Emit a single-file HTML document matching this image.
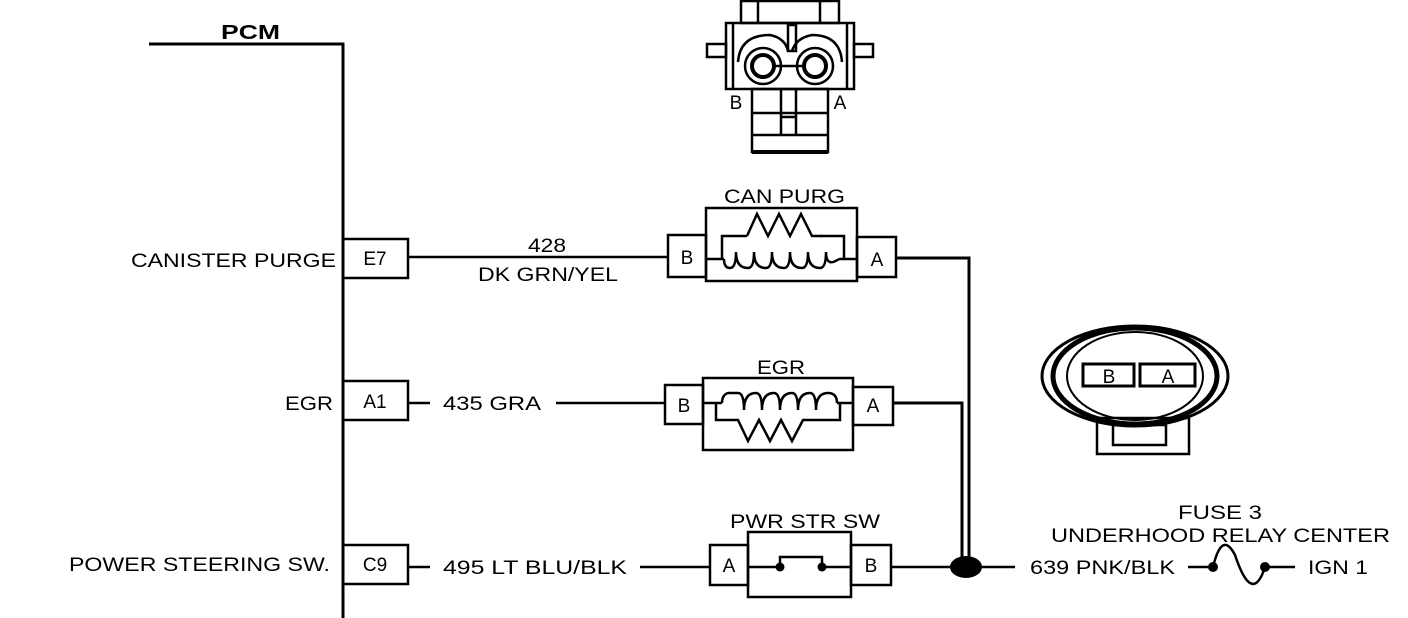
<!DOCTYPE html>
<html><head><meta charset="utf-8"><style>
html,body{margin:0;padding:0;background:#fff;}
svg{display:block;}
text{font-family:"Liberation Sans",sans-serif;fill:#000;}
</style></head><body>
<svg width="1408" height="618" viewBox="0 0 1408 618" xmlns="http://www.w3.org/2000/svg">
<g stroke="#000" fill="none" stroke-width="2.5">
<polyline points="149,44 343,44 343,618" stroke-width="3"/>
<rect x="343" y="239" width="65" height="39"/>
<rect x="343" y="381" width="65" height="39"/>
<rect x="343" y="545" width="65" height="39"/>
<line x1="408" y1="257" x2="668" y2="257"/>
<line x1="408" y1="403" x2="430" y2="403"/>
<line x1="556" y1="403" x2="665" y2="403"/>
<line x1="408" y1="567" x2="430" y2="567"/>
<line x1="640" y1="567" x2="710" y2="567"/>
<rect x="668" y="235" width="38" height="42"/>
<rect x="706" y="208" width="151" height="73"/>
<rect x="857" y="237" width="39" height="40"/>
<polyline points="706,259 724,259"/>
<polyline points="839,259 857,259"/>
<path d="M747,236 L722,236 L722,259 M820,236 L844,236 L844,259"/>
<path d="M747,236 L757,214 L768,236 L779,214 L790,236 L801,214 L812,236 L822,236"/>
<path d="M724,259 Q724,268 730,268 Q736,268 736,252 Q736,268 748,268 Q754,268 754,252 Q754,268 766,268 Q772,268 772,252 Q772,268 784,268 Q790,268 790,252 Q790,268 802,268 Q808,268 808,252 Q808,268 820,268 Q826,268 826,252 Q826,268 839,259"/>
<polyline points="896,258 969,258 969,560" stroke-width="3"/>
<rect x="665" y="385" width="38" height="39"/>
<rect x="703" y="378" width="150" height="72"/>
<rect x="853" y="387" width="40" height="38"/>
<line x1="703" y1="403" x2="722" y2="403"/>
<line x1="837" y1="403" x2="853" y2="403"/>
<path d="M722,403 Q722,395 728,393 L738,393 Q744,393 744,410 Q744,393 756,393 Q762,393 762,410 Q762,393 774,393 Q780,393 780,410 Q780,393 792,393 Q798,393 798,410 Q798,393 810,393 Q816,393 816,410 Q816,393 828,393 Q837,393 837,403"/>
<path d="M716,403 L716,420 L738,420 L748,441 L759,420 L770,441 L781,420 L792,441 L803,420 L814,420 L840,420 L840,403"/>
<polyline points="893,403 962,403 962,560" stroke-width="3"/>
<rect x="710" y="545" width="38" height="40"/>
<rect x="748" y="532" width="103" height="65"/>
<rect x="851" y="545" width="40" height="40"/>
<line x1="748" y1="567" x2="780" y2="567"/>
<line x1="822" y1="567" x2="851" y2="567"/>
<polyline points="780,567 780,557 822,557 822,567"/>
<line x1="891" y1="567" x2="1015" y2="567"/>
<line x1="1188" y1="567" x2="1213" y2="567"/>
<path d="M1213,567 Q1222,530 1235,555 Q1250,600 1262,575 L1265,567"/>
<line x1="1265" y1="567" x2="1295" y2="567"/>
</g>
<g fill="#000">
<ellipse cx="966" cy="567" rx="16" ry="11"/>
<circle cx="780" cy="567" r="4.5"/>
<circle cx="822" cy="567" r="4.5"/>
<circle cx="1213" cy="567" r="5"/>
<circle cx="1265" cy="567" r="5"/>
</g>
<g stroke="#000" fill="none" stroke-width="2.5">
<rect x="741" y="1" width="98" height="22"/>
<line x1="758" y1="1" x2="758" y2="23"/><line x1="820" y1="1" x2="820" y2="23"/>
<rect x="726" y="23" width="128" height="66"/>
<line x1="733" y1="23" x2="733" y2="89"/><line x1="847" y1="23" x2="847" y2="89"/>
<rect x="707" y="44" width="19" height="13"/><rect x="854" y="44" width="19" height="13"/>
<rect x="788" y="25" width="8" height="26"/>
<path d="M738,62 Q740,35 770,35 Q785,38 788,51 M792,51 Q796,38 812,35 Q840,35 842,62"/>
<circle cx="763" cy="66" r="18"/><circle cx="763" cy="66" r="11" stroke-width="4"/>
<circle cx="815" cy="66" r="18"/><circle cx="815" cy="66" r="11" stroke-width="4"/>
<line x1="775" y1="66" x2="803" y2="66"/>
<rect x="752" y="89" width="76" height="63"/>
<line x1="752" y1="113" x2="828" y2="113"/><line x1="752" y1="135" x2="828" y2="135"/>
<line x1="781" y1="89" x2="781" y2="135"/><line x1="796" y1="89" x2="796" y2="135"/>
<line x1="781" y1="117" x2="796" y2="117"/>
<line x1="752" y1="152" x2="828" y2="152" stroke-width="4"/>
</g>
<g stroke="#000" fill="none" stroke-width="3">
<ellipse cx="1135" cy="376" rx="93" ry="50"/>
<ellipse cx="1135" cy="376" rx="82" ry="48" stroke-width="5"/>
<ellipse cx="1135" cy="376" rx="68" ry="44" stroke-width="2"/>
<rect x="1083" y="364" width="51" height="22"/>
<rect x="1140" y="364" width="55" height="22"/>
<rect x="1097" y="418" width="92" height="36" stroke-width="2.5"/>
<rect x="1113" y="425" width="53" height="20" stroke-width="2.5"/>
</g>
<g font-size="19" lengthAdjust="spacingAndGlyphs">
<text x="221" y="39" font-weight="bold" font-size="20" textLength="59" lengthAdjust="spacingAndGlyphs">PCM</text>
<text x="131" y="267" textLength="205" lengthAdjust="spacingAndGlyphs">CANISTER PURGE</text>
<text x="285" y="410" textLength="48" lengthAdjust="spacingAndGlyphs">EGR</text>
<text x="69" y="571" textLength="261" lengthAdjust="spacingAndGlyphs">POWER STEERING SW.</text>
<text x="375" y="265" text-anchor="middle">E7</text>
<text x="375" y="408" text-anchor="middle">A1</text>
<text x="375" y="571" text-anchor="middle">C9</text>
<text x="528" y="252" textLength="38" lengthAdjust="spacingAndGlyphs">428</text>
<text x="478" y="281" textLength="140" lengthAdjust="spacingAndGlyphs">DK GRN/YEL</text>
<text x="443" y="410" textLength="98" lengthAdjust="spacingAndGlyphs">435 GRA</text>
<text x="443" y="574" textLength="184" lengthAdjust="spacingAndGlyphs">495 LT BLU/BLK</text>
<text x="724" y="203" textLength="121" lengthAdjust="spacingAndGlyphs">CAN PURG</text>
<text x="757" y="374" textLength="48" lengthAdjust="spacingAndGlyphs">EGR</text>
<text x="730" y="528" textLength="150" lengthAdjust="spacingAndGlyphs">PWR STR SW</text>
<text x="687" y="264" text-anchor="middle">B</text>
<text x="877" y="266" text-anchor="middle">A</text>
<text x="684" y="412" text-anchor="middle">B</text>
<text x="873" y="412" text-anchor="middle">A</text>
<text x="729" y="572" text-anchor="middle">A</text>
<text x="871" y="572" text-anchor="middle">B</text>
<text x="736" y="109" text-anchor="middle">B</text>
<text x="840" y="109" text-anchor="middle">A</text>
<text x="1109" y="383" text-anchor="middle">B</text>
<text x="1168" y="383" text-anchor="middle">A</text>
<text x="1030" y="574" textLength="145" lengthAdjust="spacingAndGlyphs">639 PNK/BLK</text>
<text x="1308" y="574" textLength="60" lengthAdjust="spacingAndGlyphs">IGN 1</text>
<text x="1178" y="519" textLength="84" lengthAdjust="spacingAndGlyphs">FUSE 3</text>
<text x="1051" y="542" textLength="339" lengthAdjust="spacingAndGlyphs">UNDERHOOD RELAY CENTER</text>
</g>
</svg>
</body></html>
